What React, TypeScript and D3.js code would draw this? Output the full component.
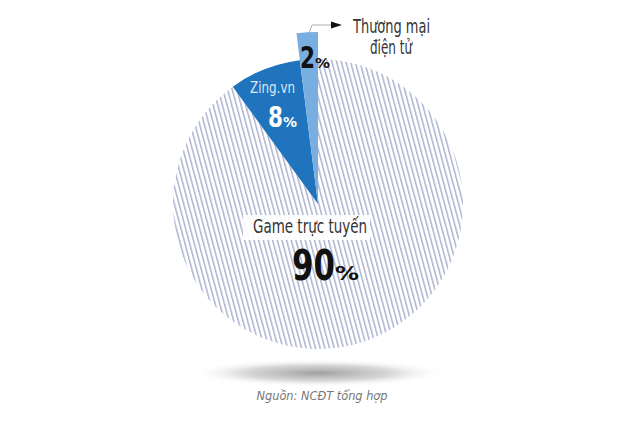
import React from "react";
import * as d3 from "d3";

const categories = ["Game trực tuyến", "Zing.vn", "Thương mại điện tử"];
const values = [90, 8, 2];
const percentLabels = ["90", "8", "2"];
const sourceNote = "Nguồn: NCĐT tổng hợp";

const W = 640;
const H = 423;
const cx = 318;
const cy = 204;
const R = 145;
const FONT = "'Liberation Sans Narrow', 'DejaVu Sans Condensed', 'Roboto', sans-serif";

export default function App() {
  const pie = d3
    .pie<number>()
    .sort(null)
    .value((d) => d)
    .startAngle(0)
    .endAngle(2 * Math.PI);
  const arcs = pie(values);
  const outerR = [R, R, 172];
  const fills = ["url(#hatch)", "#1f74bd", "#79afe0"];

  return (
    <svg
      width={W}
      height={H}
      style={{ position: "absolute", left: 0, top: 0, background: "#fff" }}
    >
      <defs>
        <pattern
          id="hatch"
          patternUnits="userSpaceOnUse"
          width={4.5}
          height={10}
          patternTransform="rotate(-15)"
        >
          <rect width={4.5} height={10} fill="#fff" />
          <rect x={0} y={0} width={1.5} height={10} fill="#adb3d0" />
        </pattern>
        <radialGradient id="shadow" cx="50%" cy="50%" r="50%">
          <stop offset="0%" stopColor="#9a9a9a" stopOpacity={0.95} />
          <stop offset="55%" stopColor="#c4c4c4" stopOpacity={0.7} />
          <stop offset="100%" stopColor="#ffffff" stopOpacity={0} />
        </radialGradient>
      </defs>

      <ellipse cx={cx} cy={373} rx={130} ry={14} fill="url(#shadow)" />

      <g transform={`translate(${cx},${cy})`}>
        {arcs.map((a, i) => {
          const path = d3.arc<d3.PieArcDatum<number>>().innerRadius(0).outerRadius(outerR[i])(a) || "";
          return <path key={categories[i]} d={path} fill={fills[i]} />;
        })}
      </g>

      {/* connector for Thương mại điện tử */}
      <path d="M309,33 L312,25 L331,25" fill="none" stroke="#999" strokeWidth={0.8} />
      <path d="M331,21.5 L342,25 L331,28.5 Z" fill="#111" />
      <text x={353} y={33} fontFamily={FONT} fontSize={20} fill="#333" textLength={77} lengthAdjust="spacingAndGlyphs">
        Thương mại
      </text>
      <text x={370} y={54} fontFamily={FONT} fontSize={20} fill="#333" textLength={42} lengthAdjust="spacingAndGlyphs">
        điện tử
      </text>
      <text x={300} y={68} fontFamily={FONT} fontWeight="bold" fill="#111">
        <tspan fontSize={30} textLength={15} lengthAdjust="spacingAndGlyphs">{percentLabels[2]}</tspan>
        <tspan fontSize={14} textLength={15} lengthAdjust="spacingAndGlyphs">%</tspan>
      </text>

      {/* Zing.vn */}
      <text x={250} y={93} fontFamily={FONT} fontSize={15} fill="#fff" fillOpacity={0.85} textLength={45} lengthAdjust="spacingAndGlyphs">
        {categories[1]}
      </text>
      <text x={268} y={127} fontFamily={FONT} fontWeight="bold" fill="#fff">
        <tspan fontSize={28} textLength={15} lengthAdjust="spacingAndGlyphs">{percentLabels[1]}</tspan>
        <tspan fontSize={14} textLength={14} lengthAdjust="spacingAndGlyphs">%</tspan>
      </text>

      {/* Game trực tuyến */}
      <rect x={243} y={215} width={127} height={25} fill="#fff" fillOpacity={0.92} />
      <text x={253} y={233} fontFamily={FONT} fontSize={20} fill="#333" textLength={114} lengthAdjust="spacingAndGlyphs">
        {categories[0]}
      </text>
      <text x={292} y={280} fontFamily={FONT} fontWeight="bold" fill="#111">
        <tspan fontSize={42} textLength={43} lengthAdjust="spacingAndGlyphs">{percentLabels[0]}</tspan>
        <tspan fontSize={20} textLength={24} lengthAdjust="spacingAndGlyphs">%</tspan>
      </text>

      <text x={322} y={400} textAnchor="middle" fontFamily={FONT} fontStyle="italic" fontSize={12} fill="#777" textLength={131} lengthAdjust="spacingAndGlyphs">
        {sourceNote}
      </text>
    </svg>
  );
}
